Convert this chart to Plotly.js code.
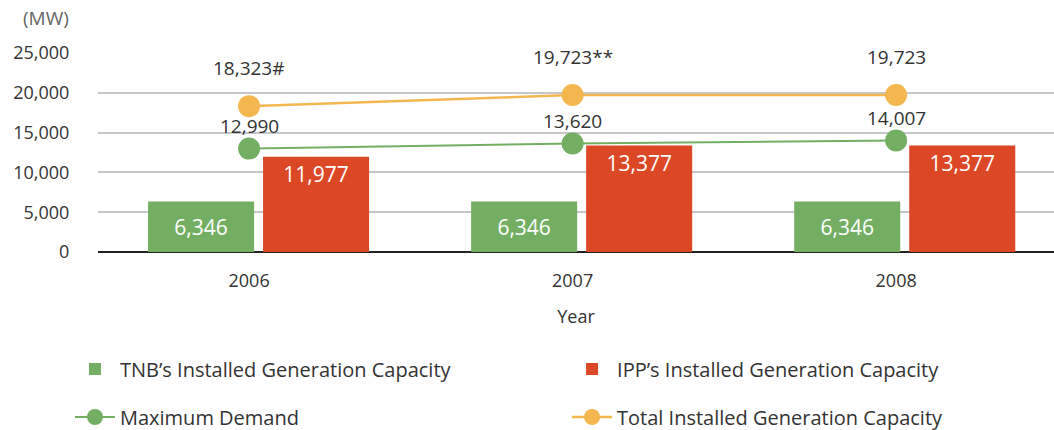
<!DOCTYPE html>
<html>
<head>
<meta charset="utf-8">
<script src="https://cdn.plot.ly/plotly-3.0.1.min.js"></script>
<style>
  body { margin: 0; background: #fff; }
  #chart { width: 1054px; height: 430px; }
</style>
</head>
<body>
<div id="chart"></div>
<script>
// 數據
const years = ['2006', '2007', '2008'];
const tnbCapacity = [6346, 6346, 6346];
const ippCapacity = [11977, 13377, 13377];
const maxDemand = [12990, 13620, 14007];
const totalCapacity = [18323, 19723, 19723];
const totalLabels = ['18,323#', '19,723**', '19,723'];
const yTicks = [0, 5000, 10000, 15000, 20000, 25000];

const GREEN = '#74ae63';
const RED = '#dc4726';
const ORANGE = '#f4b750';
const TEXT = '#333333';
const FONT = 'Open Sans, sans-serif';

const fmt = v => v.toLocaleString('en-US');

const traces = [
    {
        type: 'bar',
        name: 'TNB\u2019s Installed Generation Capacity',
        x: years,
        y: tnbCapacity,
        xaxis: 'x',
        text: tnbCapacity.map(fmt),
        textposition: 'inside',
        insidetextanchor: 'middle',
        textfont: { color: '#fff', size: 21, family: FONT },
        marker: { color: GREEN },
        hoverinfo: 'x+y',
        legend: 'legend'
    },
    {
        type: 'bar',
        name: 'IPP\u2019s Installed Generation Capacity',
        x: years,
        y: ippCapacity,
        xaxis: 'x',
        text: ippCapacity.map(fmt),
        textposition: 'inside',
        insidetextanchor: 'end',
        textfont: { color: '#fff', size: 21, family: FONT },
        marker: { color: RED },
        hoverinfo: 'x+y',
        legend: 'legend2'
    },
    {
        type: 'scatter',
        mode: 'lines+markers',
        name: 'Maximum Demand',
        x: years,
        y: maxDemand,
        xaxis: 'x2',
        line: { color: GREEN, width: 2 },
        marker: { color: GREEN, size: 22 },
        legend: 'legend3'
    },
    {
        type: 'scatter',
        mode: 'lines+markers',
        name: 'Total Installed Generation Capacity',
        x: years,
        y: totalCapacity,
        xaxis: 'x2',
        line: { color: ORANGE, width: 2.5 },
        marker: { color: ORANGE, size: 22 },
        legend: 'legend4'
    }
];

// 折線上方的數字（類別軸用索引定位）
const annotations = [];
years.forEach((yr, i) => {
    annotations.push({
        xref: 'x2', yref: 'y', x: i, y: totalCapacity[i],
        text: totalLabels[i], showarrow: false, yshift: 38,
        font: { size: 19, color: TEXT, family: FONT }
    });
    annotations.push({
        xref: 'x2', yref: 'y', x: i, y: maxDemand[i],
        text: fmt(maxDemand[i]), showarrow: false, yshift: 23,
        font: { size: 19, color: TEXT, family: FONT }
    });
});
annotations.push({
    xref: 'paper', yref: 'paper', x: -0.054, y: 1.176,
    xanchor: 'center', yanchor: 'middle',
    text: '(MW)', showarrow: false,
    font: { size: 19, color: '#666', family: FONT }
});

// 圖例：四個獨立圖例，排成兩欄兩列
function legendAt(x, y) {
    return {
        xanchor: 'left',
        yanchor: 'top',
        xref: 'container',
        yref: 'container',
        x: x,
        y: y,
        itemwidth: 40,
        itemsizing: 'trace',
        bgcolor: 'rgba(0,0,0,0)',
        font: { size: 20, color: TEXT, family: FONT }
    };
}
const COL1 = 0.0664, COL2 = 0.538, ROW1 = 0.1872, ROW2 = 0.0756;

const layout = {
    width: 1054,
    height: 430,
    margin: { l: 98, r: 0, t: 53, b: 178, autoexpand: false },
    paper_bgcolor: '#fff',
    plot_bgcolor: '#fff',
    font: { family: FONT, color: TEXT },
    barmode: 'group',
    bargap: 0.288,
    bargroupgap: 0.078,
    xaxis: {
        type: 'category',
        range: [-0.497, 2.462],
        showticklabels: false,
        showgrid: false,
        zeroline: false,
        fixedrange: true
    },
    xaxis2: {
        type: 'category',
        overlaying: 'x',
        anchor: 'y',
        side: 'bottom',
        range: [-0.467, 2.488],
        showgrid: false,
        zeroline: false,
        ticks: 'outside',
        ticklen: 12,
        tickcolor: 'rgba(0,0,0,0)',
        tickfont: { size: 18, color: TEXT, family: FONT },
        title: { text: 'Year', standoff: 19, font: { size: 18, color: TEXT, family: FONT } }
    },
    yaxis: {
        range: [0, 25000],
        tickvals: yTicks,
        tickformat: ',',
        showgrid: true,
        gridcolor: '#c6c6cb',
        gridwidth: 2,
        zeroline: true,
        zerolinecolor: '#222',
        zerolinewidth: 2,
        ticks: 'outside',
        ticklen: 24,
        tickcolor: 'rgba(0,0,0,0)',
        tickfont: { size: 18, color: TEXT, family: FONT },
        fixedrange: true
    },
    legend: legendAt(COL1, ROW1),
    legend2: legendAt(COL2, ROW1),
    legend3: legendAt(COL1, ROW2),
    legend4: legendAt(COL2, ROW2),
    annotations: annotations,
    showlegend: true
};

Plotly.newPlot('chart', traces, layout, { displayModeBar: false, staticPlot: true });
</script>
</body>
</html>
